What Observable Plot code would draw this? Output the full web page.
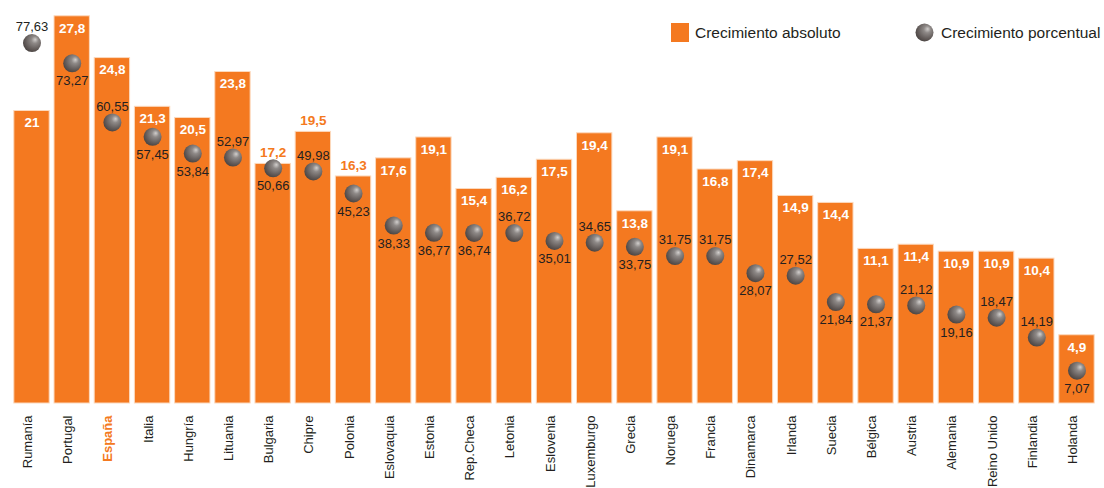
<!DOCTYPE html>
<html><head><meta charset="utf-8">
<script src="https://cdn.jsdelivr.net/npm/d3@7"></script>
<script src="https://cdn.jsdelivr.net/npm/@observablehq/plot@0.6"></script>
<style>
body{margin:0;background:#fff;font-family:"Liberation Sans",Arial,sans-serif;}
#wrap{position:relative;width:1104px;height:488px;}
.legend{position:absolute;top:23px;height:19px;font-size:15.5px;color:#231f20;display:flex;align-items:center;white-space:nowrap;}
.legend .sq{width:18px;height:19px;background:#f47920;margin-right:6px;}
.legend svg{margin-right:7px;}
</style></head><body><div id="wrap"></div>
<script>
const countries = ["Rumanía","Portugal","España","Italia","Hungría","Lituania","Bulgaria","Chipre","Polonia","Eslovaquia","Estonia","Rep.Checa","Letonia","Eslovenia","Luxemburgo","Grecia","Noruega","Francia","Dinamarca","Irlanda","Suecia","Bélgica","Austria","Alemania","Reino Unido","Finlandia","Holanda"];
const absGrowth = [21,27.8,24.8,21.3,20.5,23.8,17.2,19.5,16.3,17.6,19.1,15.4,16.2,17.5,19.4,13.8,19.1,16.8,17.4,14.9,14.4,11.1,11.4,10.9,10.9,10.4,4.9];
const pctGrowth = [77.63,73.27,60.55,57.45,53.84,52.97,50.66,49.98,45.23,38.33,36.77,36.74,36.72,35.01,34.65,33.75,31.75,31.75,28.07,27.52,21.84,21.37,21.12,19.16,18.47,14.19,7.07];
const pctLabelAbove = ["Rumanía","España","Lituania","Chipre","Letonia","Luxemburgo","Noruega","Francia","Irlanda","Austria","Reino Unido","Finlandia"];
const barLabelOutside = ["Bulgaria","Chipre","Polonia"];
const highlighted = "España";
const legendLabels = ["Crecimiento absoluto","Crecimiento porcentual"];

const orange = "#f47920";
const dark = "#231f20";
const fmt = v => String(v).replace(".", ",");
const data = countries.map((c, i) => ({country: c, abs: absGrowth[i], pct: pctGrowth[i], pctScaled: pctGrowth[i] / 3}));
const font = "Liberation Sans, Arial, Helvetica, sans-serif";

const svg = Plot.plot({
  width: 1104, height: 488,
  marginTop: 13, marginBottom: 85, marginLeft: 9, marginRight: 5,
  x: {domain: countries, padding: 0.12, round: false, axis: null},
  y: {domain: [0, 28], axis: null},
  style: {fontFamily: font, background: "white", overflow: "visible"},
  marks: [
    Plot.barY(data, {x: "country", y: "abs", fill: orange, stroke: "#fcd9bd", strokeWidth: 1}),
    Plot.text(data.filter(d => !barLabelOutside.includes(d.country)), {x: "country", y: "abs", text: d => fmt(d.abs), dy: 12, fill: "white", fontWeight: "bold", fontSize: 13.5}),
    Plot.text(data.filter(d => barLabelOutside.includes(d.country)), {x: "country", y: "abs", text: d => fmt(d.abs), dy: -11, fill: orange, fontWeight: "bold", fontSize: 13.5}),
    Plot.dot(data, {x: "country", y: "pctScaled", r: 9, fill: "url(#sphereGrad)", stroke: "none"}),
    Plot.text(data.filter(d => pctLabelAbove.includes(d.country)), {x: "country", y: "pctScaled", text: d => fmt(d.pct), dy: -16, fill: dark, fontSize: 13}),
    Plot.text(data.filter(d => !pctLabelAbove.includes(d.country)), {x: "country", y: "pctScaled", text: d => fmt(d.pct), dy: 18, fill: dark, fontSize: 13}),
    Plot.text(countries.filter(c => c !== highlighted), {x: d => d, frameAnchor: "bottom", rotate: -90, textAnchor: "end", dy: 12, fill: dark, fontSize: 13}),
    Plot.text([highlighted], {x: d => d, frameAnchor: "bottom", rotate: -90, textAnchor: "end", dy: 12, fill: orange, fontWeight: "bold", fontSize: 13})
  ]
});

const ns = "http://www.w3.org/2000/svg";
const defs = document.createElementNS(ns, "defs");
defs.innerHTML = `<radialGradient id="sphereGrad" cx="0.6" cy="0.38" r="0.65" fx="0.68" fy="0.3">
  <stop offset="0" stop-color="#d2cfcd"/><stop offset="0.3" stop-color="#8e8987"/><stop offset="0.75" stop-color="#625b59"/><stop offset="1" stop-color="#4a4442"/></radialGradient>`;
svg.insertBefore(defs, svg.firstChild);

const wrap = document.getElementById("wrap");
wrap.appendChild(svg);

const l1 = document.createElement("div");
l1.className = "legend"; l1.style.left = "671px";
l1.innerHTML = `<div class="sq"></div><span>${legendLabels[0]}</span>`;
const l2 = document.createElement("div");
l2.className = "legend"; l2.style.left = "915px";
l2.innerHTML = `<svg width="19" height="19"><circle cx="9.5" cy="9.5" r="9" fill="url(#sphereGrad)"/></svg><span>${legendLabels[1]}</span>`;
wrap.appendChild(l1); wrap.appendChild(l2);
</script></body></html>
